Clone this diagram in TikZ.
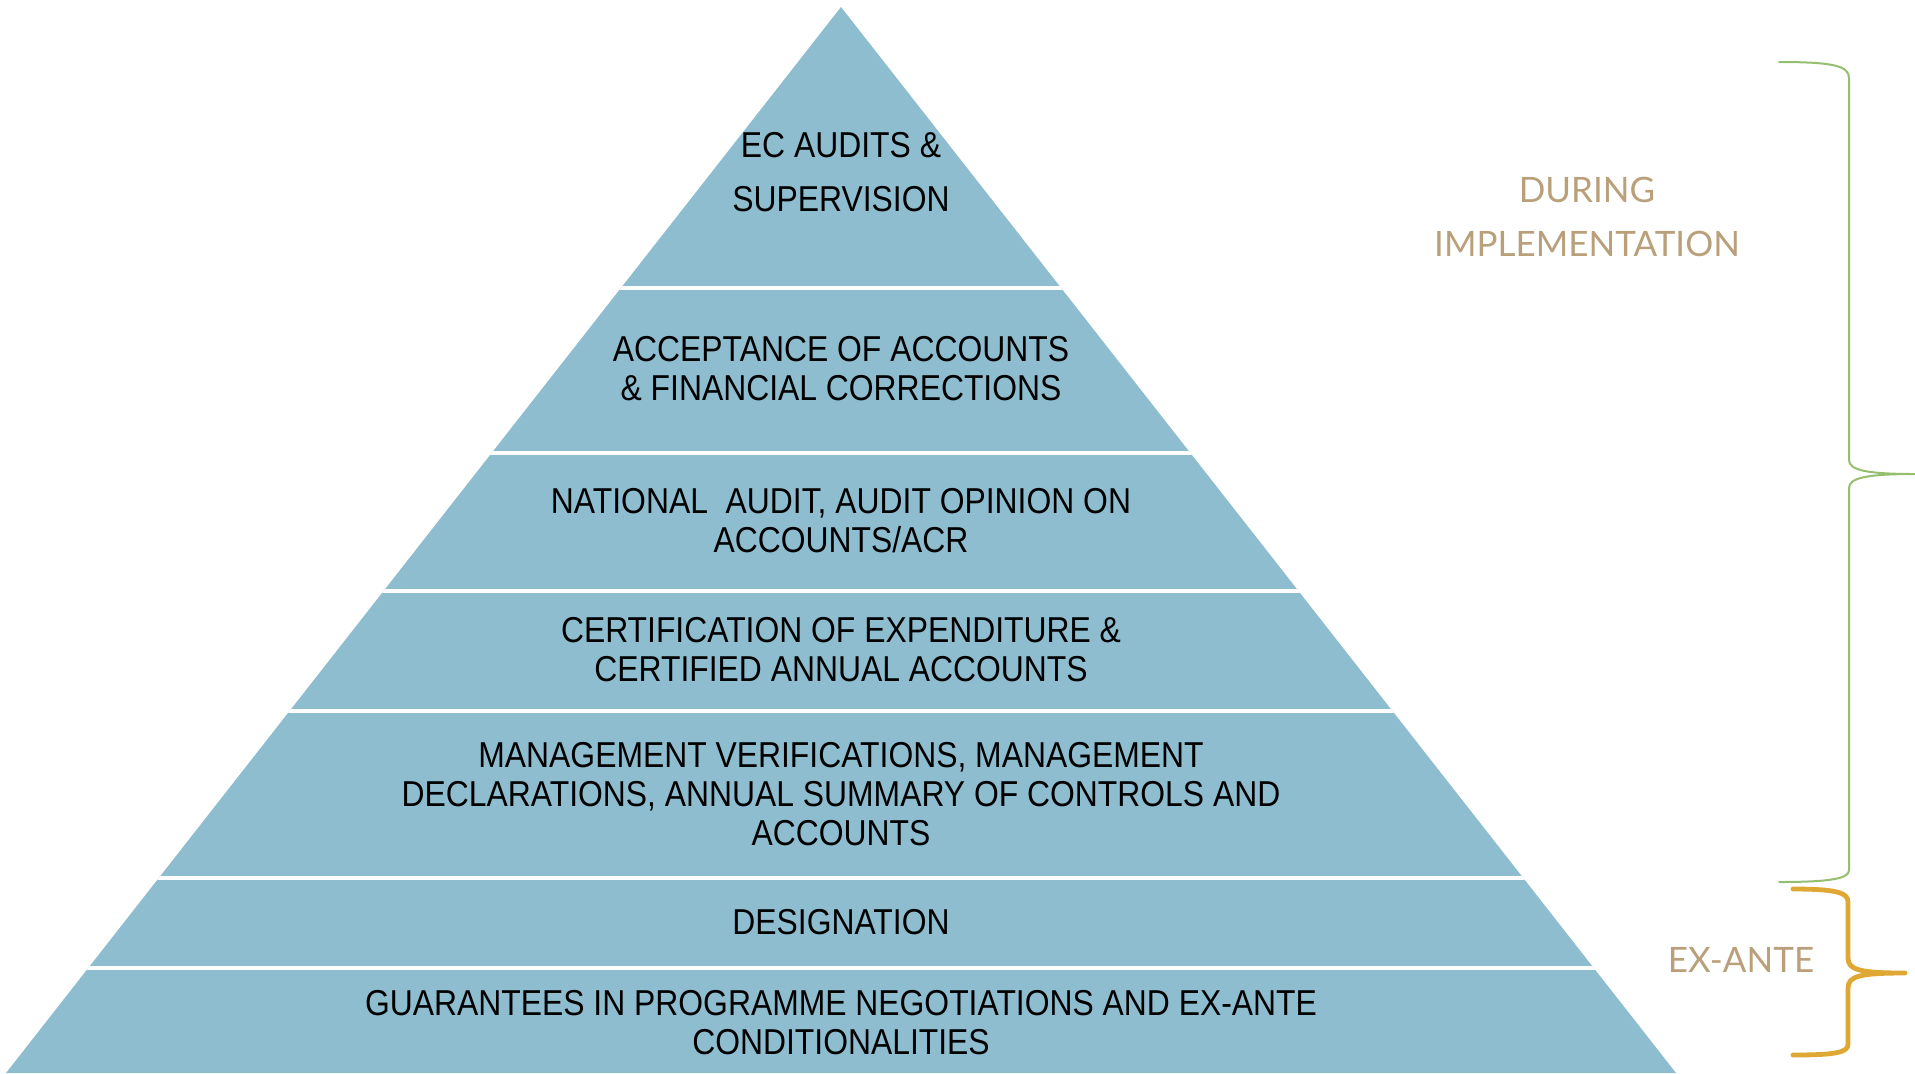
\documentclass[tikz,border=0pt]{standalone}
\usepackage{fontspec}
\usepackage{xcolor}
\usepackage{tikz}
\setmainfont{Liberation Sans}[FakeStretch=0.885]
\newfontfamily\etapafont{Lato}
\definecolor{pyrblue}{RGB}{142,189,208}
\definecolor{etapatan}{RGB}{185,160,122}
\definecolor{llaveverde}{RGB}{147,191,110}
\definecolor{llaveoro}{RGB}{223,168,52}

\begin{document}
\begin{tikzpicture}[x=0.5pt,y=-0.5pt,
    capa/.style={align=center,text=black,font=\fontsize{18}{19.5}\selectfont},
    etapa/.style={align=center,text=etapatan,font=\etapafont\fontsize{17.5}{26.75}\selectfont},
    llave/.style={line cap=round,line join=round}]
        \useasboundingbox (0,0) rectangle (1915,1073);

        % Piramide
        \coordinate (cima) at (841,7);
        \coordinate (izq) at (6,1073);
        \coordinate (der) at (1676,1073);
        \fill[pyrblue] (cima) -- (izq) -- (der) -- cycle;

        % Separaciones entre niveles
        \begin{scope}
            \clip (cima) -- (izq) -- (der) -- cycle;
            \foreach \y in {288,453,591,711,878,968}
                \draw[white,line width=1.6pt] (0,\y) -- (1915,\y);
        \end{scope}

        % Niveles
        \node[capa] (ec) at (841,172) {EC AUDITS \&\\[7.5pt]SUPERVISION};
        \node[capa] (acc) at (841,369) {ACCEPTANCE OF ACCOUNTS\\\& FINANCIAL CORRECTIONS};
        \node[capa] (nat) at (841,521) {NATIONAL\ \ AUDIT, AUDIT OPINION ON\\ACCOUNTS/ACR};
        \node[capa] (cert) at (841,650) {CERTIFICATION OF EXPENDITURE \&\\CERTIFIED ANNUAL ACCOUNTS};
        \node[capa] (man) at (841,794) {MANAGEMENT VERIFICATIONS, MANAGEMENT\\DECLARATIONS, ANNUAL SUMMARY OF CONTROLS AND\\ACCOUNTS};
        \node[capa] (des) at (841,922) {DESIGNATION};
        \node[capa] (gar) at (841,1023) {GUARANTEES IN PROGRAMME NEGOTIATIONS AND EX-ANTE\\CONDITIONALITIES};

        % Llave verde
        \draw[llave,llaveverde,line width=1pt] (1779,62) .. controls (1834,62) and (1849,66) .. (1849,78)
            -- (1849,460) .. controls (1849,470) and (1866,474) .. (1915,474)
            .. controls (1866,474) and (1849,478) .. (1849,488)
            -- (1849,870) .. controls (1849,878) and (1834,882) .. (1779,882);
        \node[etapa] (durante) at (1587,217) {DURING\\IMPLEMENTATION};

        % Llave naranja
        \draw[llave,llaveoro,line width=2.4pt] (1793,889) .. controls (1838,889) and (1848,893) .. (1848,902)
            -- (1848,958) .. controls (1848,970) and (1860,973) .. (1905,973)
            .. controls (1860,973) and (1848,976) .. (1848,988)
            -- (1848,1044) .. controls (1848,1052) and (1838,1055) .. (1793,1055);
        \node[etapa] (exante) at (1741,960) {EX-ANTE};

    \end{tikzpicture}
\end{document}
